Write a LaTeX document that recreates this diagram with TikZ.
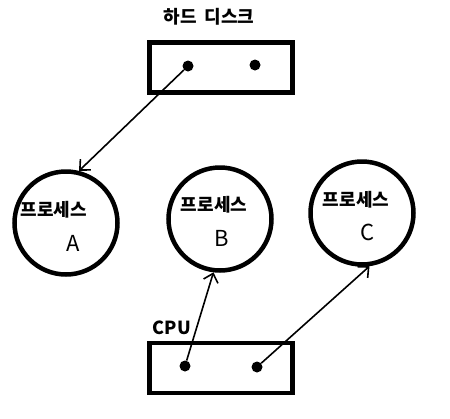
\documentclass[tikz,border=0pt]{standalone}
\usepackage{fontspec}
\newfontfamily\kr{Noto Sans CJK KR}
\usetikzlibrary{arrows.meta,positioning}

\tikzset{
  proc/.style={draw, circle, line width=4.5pt, minimum size=103pt, inner sep=0pt},
  device/.style={draw, line width=4.5pt, minimum width=143pt, minimum height=50pt, inner sep=0pt},
  dot/.style={circle, fill, inner sep=0pt, minimum size=11pt},
  link/.style={line width=1.6pt, -{Straight Barb[length=8pt,width=15pt]}},
  lbl/.style={font=\kr\bfseries\fontsize{18}{21}\selectfont, inner sep=0pt},
  letter/.style={font=\kr\fontsize{22}{26}\selectfont, inner sep=0pt}
}

\begin{document}
\begin{tikzpicture}[x=1pt, y=-1pt]
    \useasboundingbox (0,0) rectangle (450,418);

    % hard disk
    \node[device] (disk) at (221,67.5) {};
    \node[lbl] (diskname) at (209,17) {하드\hspace{8pt}디스크};
    \node[dot] (diskL) at (188,66) {};
    \node[dot] (diskR) at (255,65) {};

    % processes
    \node[proc] (procA) at (66,223) {};
    \node[proc] (procB) at (220,219) {};
    \node[proc] (procC) at (362,213) {};
    \node[lbl] (nameA) at (54,210) {프로세스};
    \node[lbl] (nameB) at (214,205) {프로세스};
    \node[lbl] (nameC) at (356,200) {프로세스};
    \node[letter] (letA) at (73,243) {A};
    \node[letter] (letB) at (222,238) {B};
    \node[letter] (letC) at (368,232) {C};

    % cpu
    \node[device] (cpu) at (221,368) {};
    \node[lbl] (cpuname) at (172,328) {CPU};
    \node[dot] (cpuL) at (185,366) {};
    \node[dot] (cpuR) at (257,367) {};

    \draw[link] (diskL) -- (procA.76);
    \draw[link] (cpuL) -- (procB.263);
    \draw[link] (cpuR) -- (procC.278);
\end{tikzpicture}
\end{document}
